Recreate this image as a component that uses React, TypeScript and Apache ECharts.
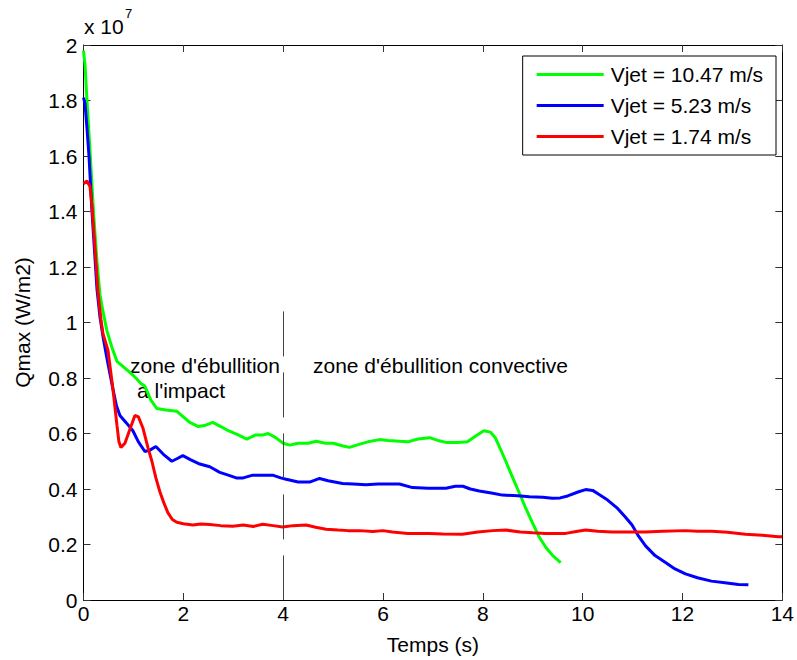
import React, { useEffect, useRef } from "react";
import * as echarts from "echarts";

// Values in units of 10^7 W/m2, time in seconds
const greenT = [0, 0.03, 0.07, 0.13, 0.2, 0.27, 0.33, 0.39, 0.47, 0.57, 0.67, 0.8, 0.93, 1.05, 1.15, 1.23, 1.35, 1.47, 1.65, 1.87, 2.0, 2.13, 2.3, 2.45, 2.59, 2.75, 2.9, 3.1, 3.27, 3.45, 3.6, 3.7, 3.85, 4.0, 4.13, 4.3, 4.5, 4.66, 4.85, 5.0, 5.2, 5.33, 5.5, 5.7, 5.93, 6.1, 6.33, 6.5, 6.7, 6.93, 7.1, 7.26, 7.5, 7.69, 7.85, 8.02, 8.15, 8.25, 8.35, 8.46, 8.6, 8.72, 8.85, 8.99, 9.12, 9.26, 9.4, 9.56];
const greenQ = [1.98, 1.93, 1.8, 1.62, 1.4, 1.22, 1.1, 1.04, 0.97, 0.91, 0.86, 0.84, 0.82, 0.8, 0.78, 0.77, 0.72, 0.69, 0.685, 0.68, 0.66, 0.64, 0.625, 0.63, 0.64, 0.625, 0.61, 0.595, 0.58, 0.595, 0.595, 0.6, 0.585, 0.565, 0.558, 0.565, 0.565, 0.572, 0.565, 0.565, 0.555, 0.55, 0.56, 0.57, 0.578, 0.575, 0.572, 0.57, 0.58, 0.585, 0.575, 0.568, 0.568, 0.57, 0.59, 0.61, 0.605, 0.585, 0.545, 0.5, 0.44, 0.39, 0.335, 0.28, 0.23, 0.19, 0.16, 0.135];

const blueT = [0, 0.03, 0.07, 0.11, 0.17, 0.22, 0.27, 0.33, 0.39, 0.47, 0.59, 0.66, 0.73, 0.85, 0.99, 1.1, 1.23, 1.33, 1.45, 1.6, 1.77, 1.88, 1.99, 2.15, 2.33, 2.53, 2.73, 2.9, 3.06, 3.2, 3.39, 3.6, 3.79, 3.95, 4.06, 4.3, 4.53, 4.73, 4.9, 5.19, 5.4, 5.66, 5.9, 6.33, 6.59, 6.9, 7.26, 7.45, 7.6, 7.75, 7.93, 8.2, 8.39, 8.7, 8.93, 9.2, 9.39, 9.55, 9.7, 9.92, 10.06, 10.2, 10.33, 10.5, 10.7, 10.85, 10.99, 11.12, 11.26, 11.45, 11.66, 11.85, 12.06, 12.3, 12.58, 12.85, 13.12, 13.32];
const blueQ = [1.81, 1.79, 1.7, 1.6, 1.4, 1.26, 1.12, 1.02, 0.95, 0.87, 0.76, 0.7, 0.665, 0.64, 0.61, 0.57, 0.535, 0.54, 0.553, 0.525, 0.5, 0.51, 0.52, 0.505, 0.49, 0.48, 0.46, 0.45, 0.44, 0.44, 0.45, 0.45, 0.45, 0.44, 0.435, 0.425, 0.425, 0.438, 0.43, 0.42, 0.418, 0.415, 0.418, 0.418, 0.405, 0.403, 0.403, 0.41, 0.41, 0.4, 0.393, 0.385, 0.378, 0.376, 0.372, 0.37, 0.367, 0.368, 0.375, 0.39, 0.398, 0.395, 0.38, 0.36, 0.33, 0.3, 0.27, 0.23, 0.195, 0.16, 0.135, 0.112, 0.094, 0.08, 0.068, 0.062, 0.056, 0.055];

const redT = [0, 0.07, 0.13, 0.17, 0.23, 0.29, 0.35, 0.39, 0.49, 0.59, 0.67, 0.71, 0.75, 0.83, 0.93, 1.03, 1.1, 1.19, 1.29, 1.37, 1.45, 1.53, 1.61, 1.69, 1.78, 1.87, 2.0, 2.19, 2.35, 2.53, 2.75, 2.99, 3.2, 3.4, 3.59, 3.8, 3.99, 4.2, 4.46, 4.65, 4.86, 5.1, 5.3, 5.53, 5.8, 6.0, 6.19, 6.5, 6.93, 7.2, 7.59, 7.9, 8.2, 8.46, 8.75, 9.0, 9.26, 9.5, 9.66, 9.9, 10.06, 10.3, 10.59, 10.9, 11.26, 11.6, 12.06, 12.3, 12.58, 12.9, 13.26, 13.6, 13.92, 14.0];
const redQ = [1.5, 1.51, 1.49, 1.42, 1.27, 1.11, 1.01, 0.96, 0.9, 0.76, 0.63, 0.57, 0.55, 0.565, 0.615, 0.665, 0.66, 0.62, 0.55, 0.5, 0.44, 0.39, 0.35, 0.315, 0.29, 0.28, 0.275, 0.27, 0.274, 0.272, 0.268, 0.266, 0.27, 0.265, 0.273, 0.268, 0.263, 0.268, 0.27, 0.262, 0.255, 0.252, 0.25, 0.25, 0.247, 0.25, 0.245, 0.24, 0.24, 0.238, 0.237, 0.245, 0.25, 0.252, 0.245, 0.242, 0.24, 0.24, 0.24, 0.248, 0.252, 0.248, 0.245, 0.245, 0.245, 0.248, 0.25, 0.248, 0.248, 0.244, 0.237, 0.233, 0.228, 0.228];

const seriesNames = ["Vjet = 10.47 m/s", "Vjet = 5.23 m/s", "Vjet = 1.74 m/s"];
const seriesColors = ["#00ff00", "#0000ff", "#ff0000"];
const xTicks = { min: 0, max: 14, interval: 2 };
const yTicks = { min: 0, max: 2, interval: 0.2 };
const dividerT = 4;
const dividerTop = 1.04;

const FONT = "'Liberation Sans', Arial, Helvetica, sans-serif";
const FS = 21;

function zip(t: number[], q: number[]) {
  return t.map((v, i) => [v, q[i]]);
}

export default function App() {
  const ref = useRef<HTMLDivElement>(null);
  useEffect(() => {
    document.body.style.margin = "0";
    const chart = echarts.init(ref.current!, null, { renderer: "svg" });
    const axisCommon = {
      axisLine: { show: true, onZero: false, lineStyle: { color: "#000", width: 1 } },
      axisTick: { show: true, inside: true, length: 7, lineStyle: { color: "#333", width: 1 } },
      splitLine: { show: false },
    };
    const datasets = [zip(greenT, greenQ), zip(blueT, blueQ), zip(redT, redQ)];
    chart.setOption({
      animation: false,
      backgroundColor: "#fff",
      textStyle: { fontFamily: FONT },
      grid: { left: 83.5, right: 13, top: 45, bottom: 59, containLabel: false },
      legend: {
        orient: "vertical",
        right: 21,
        top: 56,
        backgroundColor: "#fff",
        borderColor: "#000",
        borderWidth: 1,
        borderRadius: 0,
        padding: [8, 13, 8, 14],
        itemWidth: 67,
        itemHeight: 3,
        itemGap: 10,
        icon: "rect",
        textStyle: { fontSize: FS, color: "#000", fontFamily: FONT, padding: [0, 0, 0, 2] },
        data: seriesNames,
      },
      xAxis: [
        {
          type: "value",
          position: "bottom",
          ...xTicks,
          ...axisCommon,
          axisLabel: { fontSize: FS, color: "#000", margin: 3, fontFamily: FONT },
          name: "Temps (s)",
          nameLocation: "middle",
          nameGap: 34,
          nameTextStyle: { fontSize: FS, color: "#000", fontFamily: FONT },
        },
        {
          type: "value",
          position: "top",
          ...xTicks,
          ...axisCommon,
          axisLabel: { show: false },
        },
      ],
      yAxis: [
        {
          type: "value",
          position: "left",
          ...yTicks,
          ...axisCommon,
          axisLabel: { fontSize: FS, color: "#000", margin: 6, fontFamily: FONT },
          name: "Qmax (W/m2)",
          nameLocation: "middle",
          nameGap: 51,
          nameTextStyle: { fontSize: FS, color: "#000", fontFamily: FONT },
        },
        {
          type: "value",
          position: "right",
          ...yTicks,
          ...axisCommon,
          axisLabel: { show: false },
        },
      ],
      series: datasets.map((d, i) => ({
        name: seriesNames[i],
        type: "line",
        data: d,
        showSymbol: false,
        symbol: "none",
        lineStyle: { color: seriesColors[i], width: 3 },
        itemStyle: { color: seriesColors[i] },
        markLine:
          i === 2
            ? {
                silent: true,
                symbol: "none",
                label: { show: false },
                lineStyle: { color: "#444", width: 1, type: [45, 16] },
                data: [[{ coord: [dividerT, dividerTop] }, { coord: [dividerT, 0] }]],
              }
            : undefined,
      })),
      graphic: [
        {
          type: "text",
          x: 84,
          y: 26,
          style: { text: "x 10", fontSize: FS, fontFamily: FONT, fill: "#000", verticalAlign: "middle" },
        },
        {
          type: "text",
          x: 125,
          y: 13,
          style: { text: "7", fontSize: 13, fontFamily: FONT, fill: "#000", verticalAlign: "middle" },
        },
        {
          type: "text",
          x: 130,
          y: 365,
          style: { text: "zone d'ébullition", fontSize: FS, fontFamily: FONT, fill: "#000", verticalAlign: "middle" },
        },
        {
          type: "text",
          x: 137,
          y: 390,
          style: { text: "à l'impact", fontSize: FS, fontFamily: FONT, fill: "#000", verticalAlign: "middle" },
        },
        {
          type: "text",
          x: 313,
          y: 365,
          style: { text: "zone d'ébullition convective", fontSize: FS, fontFamily: FONT, fill: "#000", verticalAlign: "middle" },
        },
      ],
    });
    return () => chart.dispose();
  }, []);
  return (
    <div
      ref={ref}
      style={{ position: "fixed", left: 0, top: 0, width: 797, height: 660, background: "#fff" }}
    />
  );
}
